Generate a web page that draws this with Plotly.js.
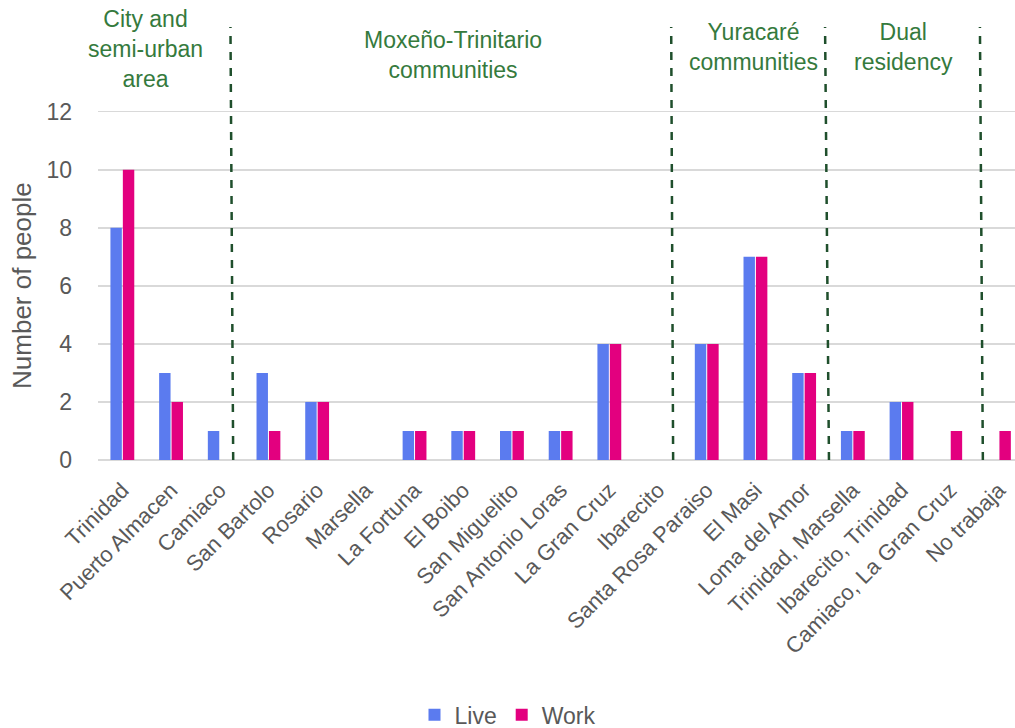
<!DOCTYPE html>
<html>
<head>
<meta charset="utf-8">
<script src="https://cdn.plot.ly/plotly-3.0.1.min.js"></script>
<style>
  html, body { margin: 0; padding: 0; background: #ffffff; }
  #chart { width: 1015px; height: 728px; }
</style>
</head>
<body>
<div id="chart"></div>
<script>
// Place of residence / place of work, number of people per location
const categories = [
  'Trinidad', 'Puerto Almacen', 'Camiaco', 'San Bartolo', 'Rosario', 'Marsella',
  'La Fortuna', 'El Boibo', 'San Miguelito', 'San Antonio Loras', 'La Gran Cruz',
  'Ibarecito', 'Santa Rosa Paraiso', 'El Masi', 'Loma del Amor',
  'Trinidad, Marsella', 'Ibarecito, Trinidad', 'Camiaco, La Gran Cruz', 'No trabaja'
];
const live = [8, 3, 1, 3, 2, 0, 1, 1, 1, 1, 4, 0, 4, 7, 3, 1, 2, 0, 0];
const work = [10, 2, 0, 1, 2, 0, 1, 1, 1, 1, 4, 0, 4, 7, 3, 1, 2, 1, 1];

const yTicks = [0, 2, 4, 6, 8, 10, 12];

// Group headings written above the plot
const groupNames = [
  'City and<br>semi-urban<br>area',
  'Moxeño-Trinitario<br>communities',
  'Yuracaré<br>communities',
  'Dual<br>residency'
];

// Layout constants (category-axis units / paper units)
const groupLabelX = [0.47, 6.78, 12.96, 16.04];
const groupLabelY = [0.949, 0.935, 0.954, 0.954];
const dividerBottom = [2.276, 11.31, 14.51, 17.67];
const dividerTop = [2.22, 11.27, 14.43, 17.61];

const grey = '#595959';
const green = '#357a3d';
const darkGreen = '#1f4f2c';
const font = 'Liberation Sans, Arial, sans-serif';

const traces = [
  { type: 'bar', name: 'Live', x: categories, y: live,
    marker: { color: '#5b7bef' }, hoverinfo: 'x+y+name' },
  { type: 'bar', name: 'Work', x: categories, y: work,
    marker: { color: '#e3007f' }, hoverinfo: 'x+y+name' }
];

const annotations = groupNames.map((t, i) => ({
  text: t, xref: 'x', yref: 'paper', x: groupLabelX[i], y: groupLabelY[i],
  xanchor: 'center', yanchor: 'middle', showarrow: false, align: 'center',
  font: { family: font, size: 23, color: green }
}));

// y-axis title, set as a rotated annotation left of the tick labels
annotations.push({
  text: 'Number of people', xref: 'paper', yref: 'paper',
  x: -0.083, y: 0.404, xanchor: 'center', yanchor: 'middle',
  textangle: -90, showarrow: false,
  font: { family: font, size: 26, color: grey }
});

const shapes = dividerBottom.map((xb, i) => ({
  type: 'line', xref: 'x', yref: 'paper',
  x0: xb, y0: 0, x1: dividerTop[i], y1: 1,
  line: { color: darkGreen, width: 2.5, dash: '8px,8px' }
}));

const layout = {
  width: 1015, height: 728,
  margin: { l: 98, r: 0, t: 27, b: 268, pad: 0 },
  paper_bgcolor: '#ffffff', plot_bgcolor: '#ffffff',
  barmode: 'group', bargap: 0.49, bargroupgap: 0.08,
  showlegend: true,
  legend: {
    orientation: 'h', xref: 'container', yref: 'container',
    x: 0.5, xanchor: 'center', y: 0.018, yanchor: 'middle',
    font: { family: font, size: 23, color: grey },
    itemwidth: 30, traceorder: 'normal'
  },
  xaxis: {
    type: 'category', range: [-0.5, 18.33],
    tickangle: -45, ticks: '', showgrid: false, showline: false, zeroline: false,
    tickfont: { family: font, size: 22, color: grey },
    ticklabelstandoff: 12, automargin: false
  },
  yaxis: {
    range: [0, 14.92], tickvals: yTicks, ticktext: yTicks.map(String),
    showgrid: true, gridcolor: '#d9d9d9', gridwidth: 1.5,
    zeroline: true, zerolinecolor: '#d9d9d9', zerolinewidth: 1.5,
    showline: false, ticks: '',
    tickfont: { family: font, size: 23, color: grey },
    ticklabelstandoff: 25, automargin: false
  },
  annotations: annotations,
  shapes: shapes
};

Plotly.newPlot('chart', traces, layout, { displayModeBar: false, staticPlot: true });
</script>
</body>
</html>
